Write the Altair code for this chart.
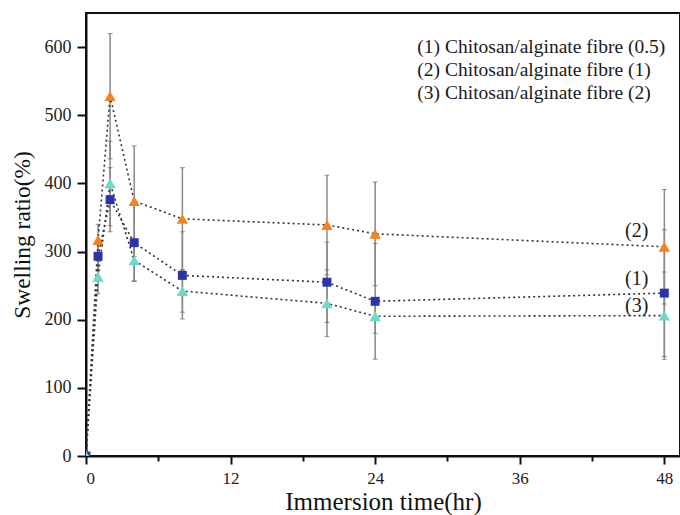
import altair as alt
import pandas as pd

# Immersion times (hr)
times = [0, 1, 2, 4, 8, 20, 24, 48]

# Swelling ratio (%) and standard deviations for each fibre
s1_mean = [0, 293, 376, 313, 265, 255, 227, 239]
s1_sd = [0, 20, 47, 57, 64, 59, 85, 93]
s2_mean = [0, 317, 528, 374, 348, 339, 326, 307]
s2_sd = [0, 23, 92, 81, 75, 73, 76, 84]
s3_mean = [0, 263, 400, 287, 242, 224, 205, 206]
s3_sd = [0, 25, 62, 30, 31, 49, 25, 64]

series_keys = ["(1)", "(2)", "(3)"]
series_colors = ["#2B35A8", "#F5821E", "#6DD9C8"]
series_shapes = ["square", "triangle-up", "triangle-up"]
series_sizes = [80, 130, 130]

legend_lines = [
    "(1) Chitosan/alginate fibre (0.5)",
    "(2) Chitosan/alginate fibre (1)",
    "(3) Chitosan/alginate fibre (2)",
]
legend_y = [600, 566, 532]

end_labels = ["(2)", "(1)", "(3)"]
end_label_y = [330, 260, 220]

rows = []
for key, means, sds in zip(series_keys, [s1_mean, s2_mean, s3_mean], [s1_sd, s2_sd, s3_sd]):
    for t, m, s in zip(times, means, sds):
        rows.append({"series": key, "t": t, "ratio": m, "lo": m - s, "hi": m + s})
df = pd.DataFrame(rows)

FONT = "Times New Roman, Liberation Serif, serif"
X_MAX = 49.3
Y_MAX = 650

x_scale = alt.Scale(domain=[0, X_MAX], nice=False, zero=True)
y_scale = alt.Scale(domain=[0, Y_MAX], nice=False)

x_axis = alt.Axis(
    title="Immersion time(hr)",
    values=[0, 6, 12, 18, 24, 30, 36, 42, 48],
    labelExpr="datum.value % 12 === 0 ? datum.label : ''",
    tickSize={"condition": {"test": "datum.value % 12 === 0", "value": 8}, "value": 5},
    grid=False,
    labelPadding=6,
    labelFontSize=17,
    titlePadding=3,
    titleFontSize=25,
)
y_axis = alt.Axis(
    title="Swelling ratio(%)",
    values=[0, 50, 100, 150, 200, 250, 300, 350, 400, 450, 500, 550, 600],
    labelExpr="datum.value % 100 === 0 ? datum.label : ''",
    tickSize={"condition": {"test": "datum.value % 100 === 0", "value": 9}, "value": 5},
    grid=False,
    labelPadding=6,
    labelFontSize=18,
    titlePadding=10,
    titleFontSize=23.5,
)

base = alt.Chart(df)

err = base.transform_filter("datum.t > 0").mark_rule(
    color="#8a8a8a", strokeWidth=1.5
).encode(
    x=alt.X("t:Q", scale=x_scale, axis=x_axis),
    y=alt.Y("lo:Q", scale=y_scale, axis=y_axis),
    y2="hi:Q",
)

caps_lo = base.transform_filter("datum.t > 0").mark_tick(
    color="#666666", orient="horizontal", size=5, thickness=1
).encode(x="t:Q", y="lo:Q")
caps_hi = base.transform_filter("datum.t > 0").mark_tick(
    color="#666666", orient="horizontal", size=5, thickness=1
).encode(x="t:Q", y="hi:Q")

lines = base.mark_line(
    color="#333333", strokeDash=[2, 3], strokeWidth=1.6
).encode(x="t:Q", y="ratio:Q", detail="series:N")

point_layers = []
for key, color, shape, size in zip(series_keys, series_colors, series_shapes, series_sizes):
    point_layers.append(
        base.transform_filter(alt.datum.series == key).mark_point(
            shape=shape, filled=True, color=color, size=size, opacity=1, clip=True
        ).encode(x="t:Q", y="ratio:Q")
    )

legend_df = pd.DataFrame({"text": legend_lines, "y": legend_y, "x": [27.5] * 3})
legend = alt.Chart(legend_df).mark_text(
    align="left", baseline="middle", font=FONT, fontSize=19.5, color="#1a1a1a"
).encode(x="x:Q", y="y:Q", text="text:N")

end_df = pd.DataFrame({"text": end_labels, "y": end_label_y, "x": [45.7] * 3})
end_text = alt.Chart(end_df).mark_text(
    align="center", baseline="middle", font=FONT, fontSize=20, color="#1a1a1a"
).encode(x="x:Q", y="y:Q", text="text:N")

chart = alt.layer(
    err, caps_lo, caps_hi, lines, *point_layers, legend, end_text
).properties(
    width=594,
    height=443,
    autosize=alt.AutoSizeParams(type="none"),
    padding={"left": 86, "top": 13, "right": 0, "bottom": 59},
).configure(
    font=FONT,
).configure_view(
    stroke="#111111", strokeWidth=2
).configure_axis(
    domainColor="#111111",
    domainWidth=2,
    tickColor="#111111",
    tickWidth=2,
    labelFont=FONT,
    labelColor="#222222",
    titleFont=FONT,
    titleFontWeight="normal",
    titleColor="#111111",
)

chart.save("out.html", embed_options={"renderer": "svg", "actions": False})
